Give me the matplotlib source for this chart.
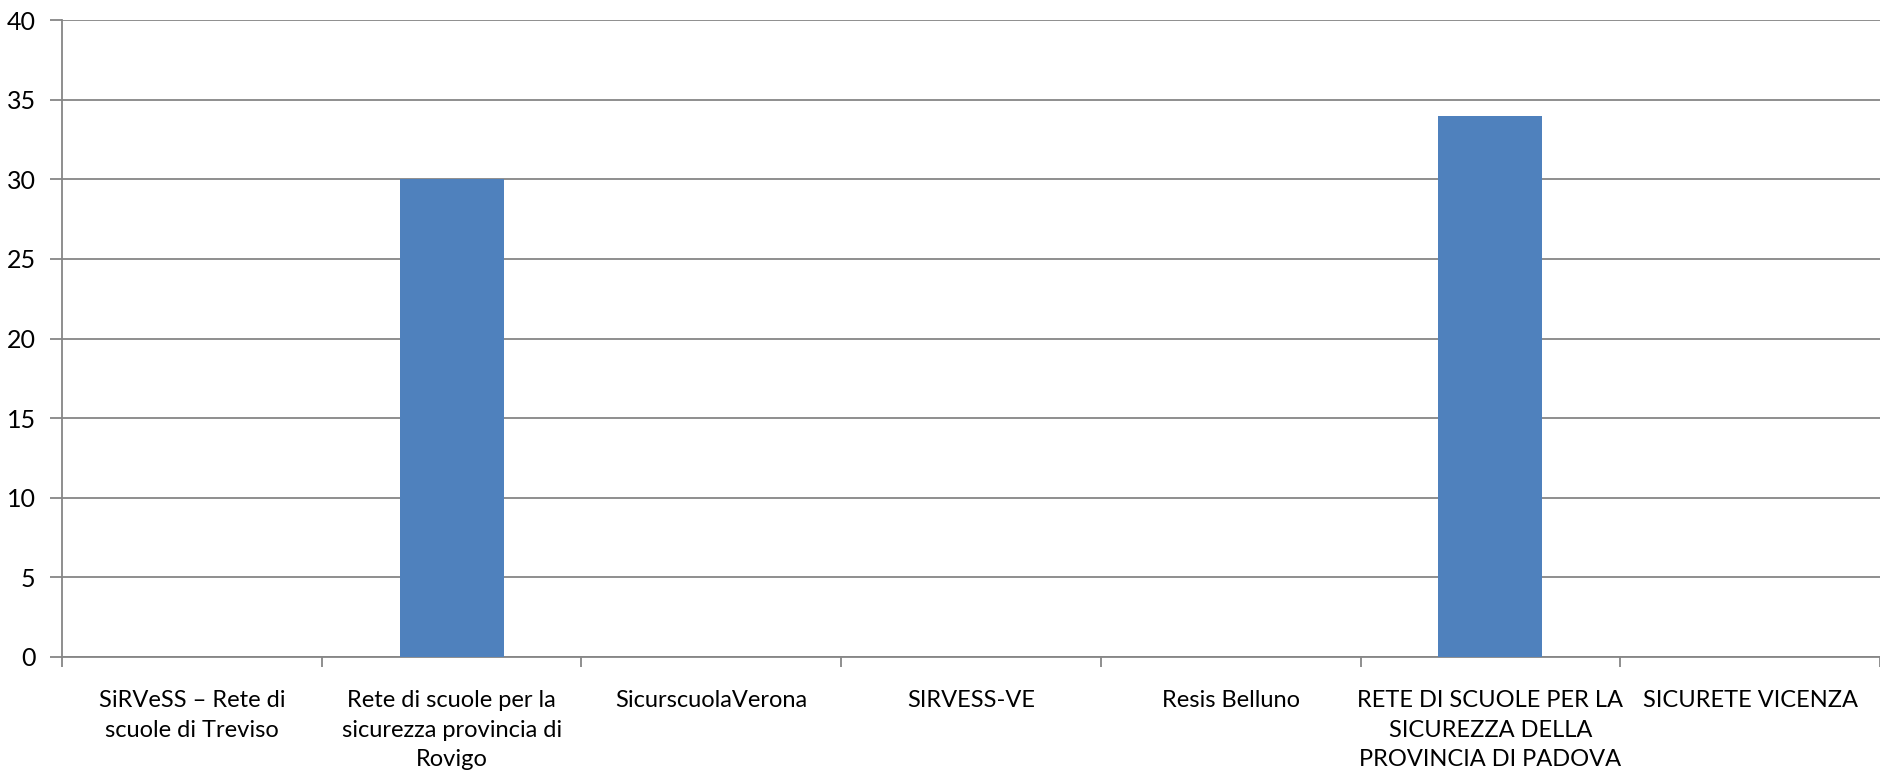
import matplotlib.pyplot as plt
import numpy as np

plt.rcParams['font.family'] = ['Lato', 'DejaVu Sans']

categories = [
    "SiRVeSS \u2013 Rete di\nscuole di Treviso",
    "Rete di scuole per la\nsicurezza provincia di\nRovigo",
    "SicurscuolaVerona",
    "SIRVESS-VE",
    "Resis Belluno",
    "RETE DI SCUOLE PER LA\nSICUREZZA DELLA\nPROVINCIA DI PADOVA",
    "SICURETE VICENZA",
]
values = [0, 30, 0, 0, 0, 34, 0]

W, H = 1881, 777
fig = plt.figure(figsize=(W / 100, H / 100), dpi=100)
ax = fig.add_axes([62 / W, (H - 657) / H, (1880 - 62) / W, (657 - 20) / H])

grid_col = '#868686'
x = np.arange(len(categories))
ax.bar(x, values, width=0.4, color='#4F81BD', zorder=3)

ax.set_xlim(-0.5, len(categories) - 0.5)
ax.set_ylim(0, 40)
ax.set_yticks(range(0, 41, 5))
ax.yaxis.grid(True, color=grid_col, linewidth=1.3, zorder=0)

ax.set_xticks(x)
ax.set_xticklabels(categories, fontsize=17, linespacing=1.5, va='top')
ax.tick_params(axis='x', which='major', length=0, pad=24)
ax.set_xticks(np.arange(-0.5, len(categories), 1), minor=True)
ax.tick_params(axis='x', which='minor', length=7, width=1.3, color=grid_col)
ax.tick_params(axis='y', length=9, width=1.3, color=grid_col, labelsize=18, pad=10)

for s in ['top', 'right']:
    ax.spines[s].set_visible(False)
for s in ['left', 'bottom']:
    ax.spines[s].set_color(grid_col)
    ax.spines[s].set_linewidth(1.3)

fig.savefig('out.png', dpi=100)
